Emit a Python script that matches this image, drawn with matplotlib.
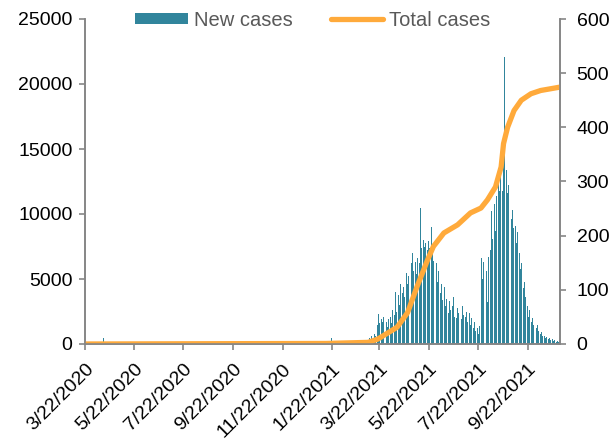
import datetime as dt
import numpy as np
import matplotlib
matplotlib.use("Agg")
import matplotlib.pyplot as plt
import matplotlib.dates as mdates
from matplotlib.patches import Patch
from matplotlib.lines import Line2D

plt.rcParams['font.family'] = ['Liberation Sans', 'DejaVu Sans']

# Daily new cases, 1 Mar 2021 - 31 Oct 2021, one list per month
new_mar = [80, 120, 60, 150, 100, 200, 90, 350, 200, 450, 300, 600, 400, 750,
           500, 800, 600, 700, 900, 1500, 2300, 1600, 2200, 1300, 1900, 1700, 2100, 1400,
           1800, 1200, 1700]
new_apr = [1300, 1900, 1100, 1500, 2100, 1600, 2600, 1900, 2800, 2200, 4000, 2500, 3300, 2900,
           3800, 3000, 4600, 3400, 5000, 3900, 4400, 3600, 6500, 4200, 5500, 4600, 5200, 4300,
           5800, 4900]
new_may = [6200, 7000, 5600, 6000, 5200, 6300, 5400, 6600, 5800, 7100, 6200, 10500, 7400, 7900,
           7300, 8000, 7500, 7800, 7000, 7600, 7200, 7900, 7400, 8100, 17800, 9000, 7200, 6400,
           5900, 7000, 5400]
new_jun = [6200, 4800, 5600, 4300, 5000, 3900, 4600, 3400, 4100, 3600, 4400, 2900, 3500, 2700,
           3800, 2400, 3300, 2600, 3100, 2200, 2900, 3600, 2100, 2700, 3200, 2000, 2800, 2400,
           3100, 2300]
new_jul = [2600, 1900, 2900, 2200, 1800, 2700, 2100, 2500, 1700, 2300, 1600, 2400, 1500, 2000,
           1300, 2100, 1200, 1700, 1000, 1500, 900, 1200, 800, 1400, 1000, 2200, 6600, 5000,
           6300, 4400, 6500]
new_aug = [3900, 5600, 3200, 6700, 4600, 9300, 7200, 10200, 8100, 11600, 9400, 10800, 8700, 11400,
           14400, 12100, 13500, 11800, 14000, 12600, 13200, 11800, 13900, 22100, 14100, 12700, 13400, 11600,
           12200, 10800, 11400]
new_sep = [10800, 9600, 10300, 8900, 9800, 8200, 9100, 7800, 8600, 7200, 6600, 7000, 5800, 6200,
           5100, 5600, 4300, 4800, 3600, 4100, 3400, 2900, 2100, 2600, 1900, 2300, 1700, 2000,
           1500, 1800]
new_oct = [1400, 1600, 1200, 1500, 1000, 900, 1100, 800, 900, 600, 750, 500, 650, 450,
           550, 400, 500, 350, 450, 300, 400, 250, 350, 200, 300, 180, 280, 150,
           220, 130, 180]

# Quiet period (22 Mar 2020 - 28 Feb 2021): only a few visible bars
early_days = ["2020-04-14", "2020-12-23", "2021-01-22", "2021-02-11"]
early_vals = [450, 200, 450, 600]

# Total cases (thousands)
total_days = ["2020-03-22", "2021-01-15", "2021-03-08", "2021-03-20", "2021-04-13", "2021-04-26",
              "2021-05-08", "2021-05-21", "2021-05-28", "2021-06-10", "2021-06-27", "2021-07-13",
              "2021-07-26", "2021-08-03", "2021-08-13", "2021-08-20", "2021-08-23", "2021-08-28",
              "2021-09-05", "2021-09-14", "2021-09-26", "2021-10-08", "2021-10-31"]
total_vals = [0, 1, 3, 9, 31, 58, 107, 156, 180, 205, 220, 242,
              251, 266, 290, 327, 370, 400, 431, 450, 462, 468, 474]

tick_days = ["2020-03-22", "2020-05-22", "2020-07-22", "2020-09-22", "2020-11-22",
             "2021-01-22", "2021-03-22", "2021-05-22", "2021-07-22", "2021-09-22"]

# build the daily series
active = new_mar + new_apr + new_may + new_jun + new_jul + new_aug + new_sep + new_oct
start_active = dt.date(2021, 3, 1)
bar_dates = [start_active + dt.timedelta(days=i) for i in range(len(active))]
bar_vals = list(active)
for d, v in zip(early_days, early_vals):
    bar_dates.append(dt.date.fromisoformat(d))
    bar_vals.append(v)

tot_dates = [dt.date.fromisoformat(d) for d in total_days]
ticks = [dt.date.fromisoformat(d) for d in tick_days]

fig = plt.figure(figsize=(6.1, 4.43), dpi=100)
ax = fig.add_axes([85 / 610, 1 - 344 / 443, (560 - 85) / 610, (344 - 19) / 443])
ax2 = ax.twinx()

bar_color = '#31859C'
line_color = '#FFAA3B'
grey = '#868686'

ax.bar(bar_dates, bar_vals, width=0.75, color=bar_color, linewidth=0)
ax2.plot(tot_dates, total_vals, color=line_color, lw=3.8, solid_capstyle='round')

ax.set_xlim(dt.date(2020, 3, 22), dt.date(2020, 3, 22) + dt.timedelta(days=589))
ax.set_ylim(0, 25000)
ax2.set_ylim(0, 600)
ax.set_yticks(np.arange(0, 25001, 5000))
ax2.set_yticks(np.arange(0, 601, 100))

ax.set_xticks(ticks)
ax.xaxis.set_major_formatter(plt.FuncFormatter(
    lambda x, pos: (lambda d: f"{d.month}/{d.day}/{d.year}")(mdates.num2date(x))))
for lbl in ax.get_xticklabels():
    lbl.set_rotation(45)
    lbl.set_ha('right')
    lbl.set_rotation_mode('anchor')

for a in (ax, ax2):
    a.spines['top'].set_visible(False)
    for s in ('left', 'right', 'bottom'):
        a.spines[s].set_color(grey)
        a.spines[s].set_linewidth(1.2)
    a.tick_params(colors=grey, labelcolor='black', labelsize=14, length=4, width=1.2)
ax.tick_params(axis='x', pad=8)
ax.tick_params(axis='y', pad=5)
ax2.tick_params(axis='y', pad=8)

handles = [Patch(facecolor=bar_color, edgecolor='none'),
           Line2D([0], [0], color=line_color, lw=3.8, solid_capstyle='round')]
fig.legend(handles, ['New cases', 'Total cases'], loc='center', ncol=2,
           bbox_to_anchor=(0.513, 0.954), frameon=False, fontsize=14.5,
           labelcolor='#595959', handlelength=2.6, handleheight=0.5,
           handletextpad=0.3, columnspacing=1.9)

fig.savefig('out.png', dpi=100)
